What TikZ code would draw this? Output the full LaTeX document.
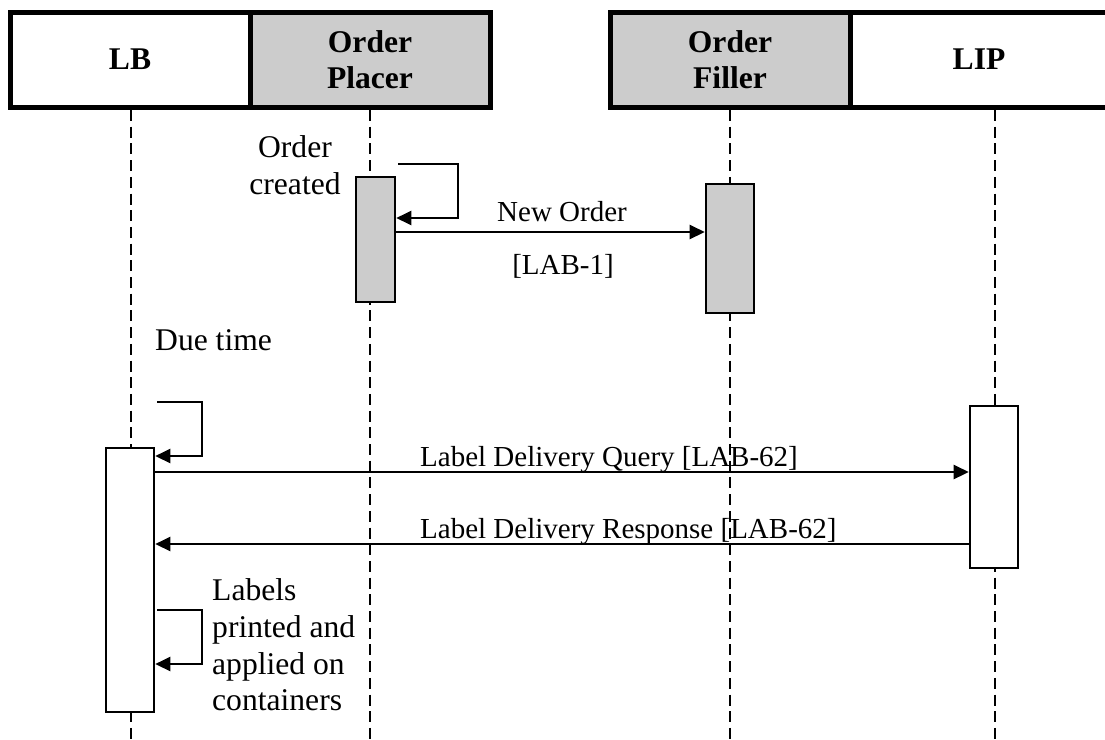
\documentclass[tikz,border=0pt]{standalone}
\usepackage{fontspec}
\setmainfont{Liberation Serif}
\usetikzlibrary{arrows.meta}
\definecolor{boxgray}{RGB}{204,204,204}
\begin{document}
\begin{tikzpicture}[x=1pt,y=-1pt,
  hdr/.style={draw, line width=5pt, minimum height=95pt, inner sep=0pt,
    font=\fontsize{31.6}{36.5}\selectfont\bfseries, align=center},
  life/.style={line width=2.2pt, dash pattern=on 11pt off 5.7pt},
  act/.style={draw, line width=2.6pt, inner sep=0pt, fill=white},
  msg/.style={line width=2.5pt, -{Triangle[length=15pt,width=14pt]}},
  note/.style={font=\fontsize{31.6}{36.8}\selectfont, inner sep=0pt},
  lbl/.style={font=\fontsize{29}{33}\selectfont, inner sep=0pt}]
\useasboundingbox (0,0) rectangle (1105,739);

% headers
\node[hdr, minimum width=240pt] (hLB) at (130,59.5) {LB};
\node[hdr, fill=boxgray, minimum width=240pt] (hOP) at (370,59.5) {Order\\Placer};
\node[hdr, fill=boxgray, minimum width=240pt] (hOF) at (730,59.5) {Order\\Filler};
\node[hdr, minimum width=258pt] (hLIP) at (979,59.5) {LIP};

% lifelines
\coordinate (bottom) at (0,740);
\coordinate (tLB) at (131,110);
\coordinate (tOP) at (370,110);
\coordinate (tOF) at (730,110);
\coordinate (tLIP) at (995,110);
\draw[life] (tLB) -- (tLB |- bottom);
\draw[life] (tOP) -- (tOP |- bottom);
\draw[life] (tOF) -- (tOF |- bottom);
\draw[life] (tLIP) -- (tLIP |- bottom);

% activation boxes
\node[act, fill=boxgray, minimum width=39pt, minimum height=125pt] (aOP) at (375.5,239.5) {};
\node[act, fill=boxgray, minimum width=48pt, minimum height=129pt] (aOF) at (730,248.5) {};
\node[act, minimum width=48pt, minimum height=264pt] (aLB) at (130,580) {};
\node[act, minimum width=48pt, minimum height=162pt] (aLIP) at (994,487) {};

% message levels
\coordinate (yNew) at (0,232);
\coordinate (ySelfOP) at (0,218);
\coordinate (yDue) at (0,456);
\coordinate (yQ) at (0,472);
\coordinate (yR) at (0,544);
\coordinate (yLab) at (0,664);

% self messages
\coordinate (sOP) at (398,164);
\draw[msg] (sOP) -- ++(60,0) -- ++(0,54) -- (aOP.east |- ySelfOP);
\coordinate (sDue) at (157,402);
\draw[msg] (sDue) -- ++(45,0) -- ++(0,54) -- (aLB.east |- yDue);
\coordinate (sLab) at (157,610);
\draw[msg] (sLab) -- ++(45,0) -- ++(0,54) -- (aLB.east |- yLab);

% messages
\draw[msg] (aOP.east |- yNew) -- (aOF.west |- yNew);
\draw[msg] (aLB.east |- yQ) -- (aLIP.west |- yQ);
\draw[msg] (aLIP.west |- yR) -- (aLB.east |- yR);

% texts
\node[note, align=center, anchor=north] (tOC) at (295,135.3) {Order\\created};
\node[note, anchor=base west] (tDue) at (155,350) {Due time};
\node[note, align=left, anchor=north west] (tLabels) at (212,578.4) {Labels\\printed and\\applied on\\containers};
\node[lbl, anchor=base] (tNew) at (562,221) {New Order};
\node[lbl, anchor=base] (tLAB1) at (563,274) {[LAB-1]};
\node[lbl, anchor=base west] (tQ) at (420,466) {Label Delivery Query [LAB-62]};
\node[lbl, anchor=base west] (tR) at (420,538) {Label Delivery Response [LAB-62]};
\end{tikzpicture}
\end{document}
